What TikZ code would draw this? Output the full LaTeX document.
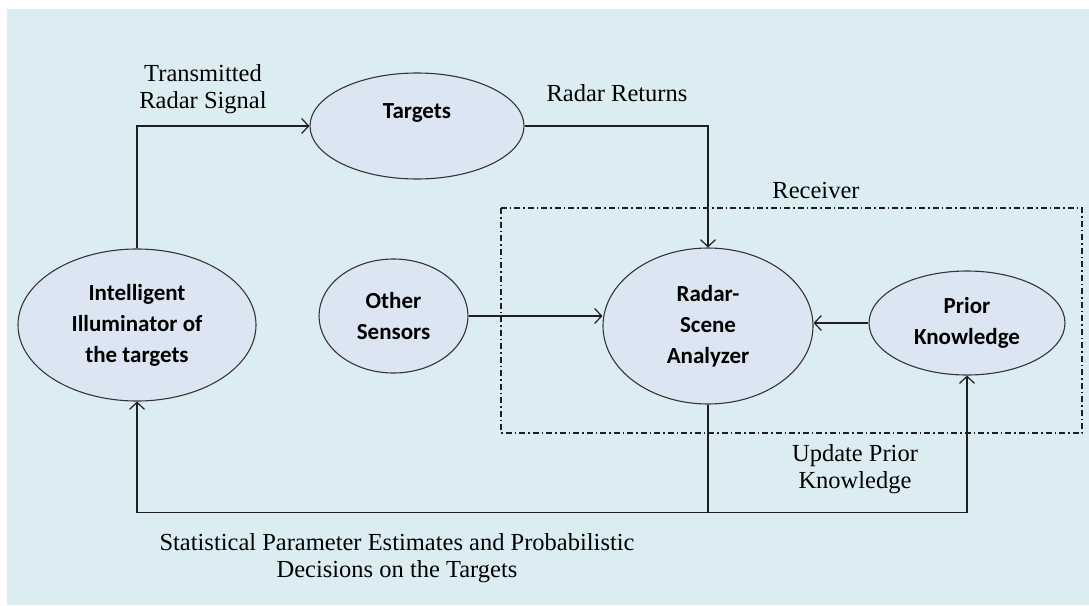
\documentclass[tikz,border=0pt]{standalone}
\usepackage{fontspec}
\setmainfont{Liberation Serif}
\newfontfamily\nodefont{Carlito}
\usetikzlibrary{shapes.geometric,arrows.meta,calc}
\definecolor{bgblue}{HTML}{DBEDF3}
\definecolor{ellfill}{HTML}{DCE6F2}
\definecolor{lncol}{HTML}{1F1F1F}
\tikzset{
  ell/.style={ellipse, draw=lncol!90, fill=ellfill, line width=1.1pt, inner sep=0pt,
    align=center, font=\nodefont\bfseries\fontsize{23}{31}\selectfont},
  ntext/.style={inner sep=0pt, align=center, font=\nodefont\bfseries\fontsize{23}{31}\selectfont},
  lbl/.style={inner sep=0pt, align=center, font=\fontsize{24.5}{27}\selectfont},
  conn/.style={draw=lncol, line width=1.2pt},
  arr/.style={conn, -{Straight Barb[length=7pt,width=15pt,line width=1.2pt]}},
  rbox/.style={draw=lncol, line width=1.1pt, dash pattern=on 6pt off 3pt on 1.5pt off 3pt}
}
\begin{document}
\begin{tikzpicture}[x=1pt,y=-1pt]
\useasboundingbox (0,0) rectangle (1089,605);
\fill[bgblue] (7,9) rectangle (1089,605);
% receiver box
\draw[rbox] (501,208) rectangle (1082,433);
\node[lbl] (recv) at (816,191) {Receiver};
% nodes
\node[ell, minimum width=214pt, minimum height=106pt] (targets) at (417,126) {};
\node[ntext] (targetsT) at (417,113) {Targets};
\node[ell, minimum width=238pt, minimum height=152pt] (illum) at (137,325) {Intelligent\\Illuminator of\\the targets};
\node[ell, minimum width=149pt, minimum height=114pt] (others) at (393.5,316) {Other\\Sensors};
\node[ell, minimum width=210pt, minimum height=156pt] (analyzer) at (708,326) {Radar-\\Scene\\Analyzer};
\node[ell, minimum width=196pt, minimum height=104pt] (prior) at (967,323) {Prior\\Knowledge};
% labels
\node[lbl] (tx) at (203,89) {Transmitted\\Radar Signal};
\node[lbl] (rr) at (617,93) {Radar Returns};
\node[lbl] (upd) at (855,469) {Update Prior\\Knowledge};
\node[lbl] (stat) at (397,558) {Statistical Parameter Estimates and Probabilistic\\Decisions on the Targets};
% connectors
\coordinate (junc) at ($(analyzer.south)+(0,108)$);
\draw[arr] (illum.north) |- (targets.west);
\draw[arr] (targets.east) -| (analyzer.north);
\draw[arr] (others.east) -- (others.east -| analyzer.west);
\draw[arr] (prior.west) -- (prior.west -| analyzer.east);
\draw[conn] (analyzer.south) -- (junc);
\draw[arr] (junc) -| (illum.south);
\draw[arr] (junc) -| (prior.south);
\end{tikzpicture}
\end{document}
